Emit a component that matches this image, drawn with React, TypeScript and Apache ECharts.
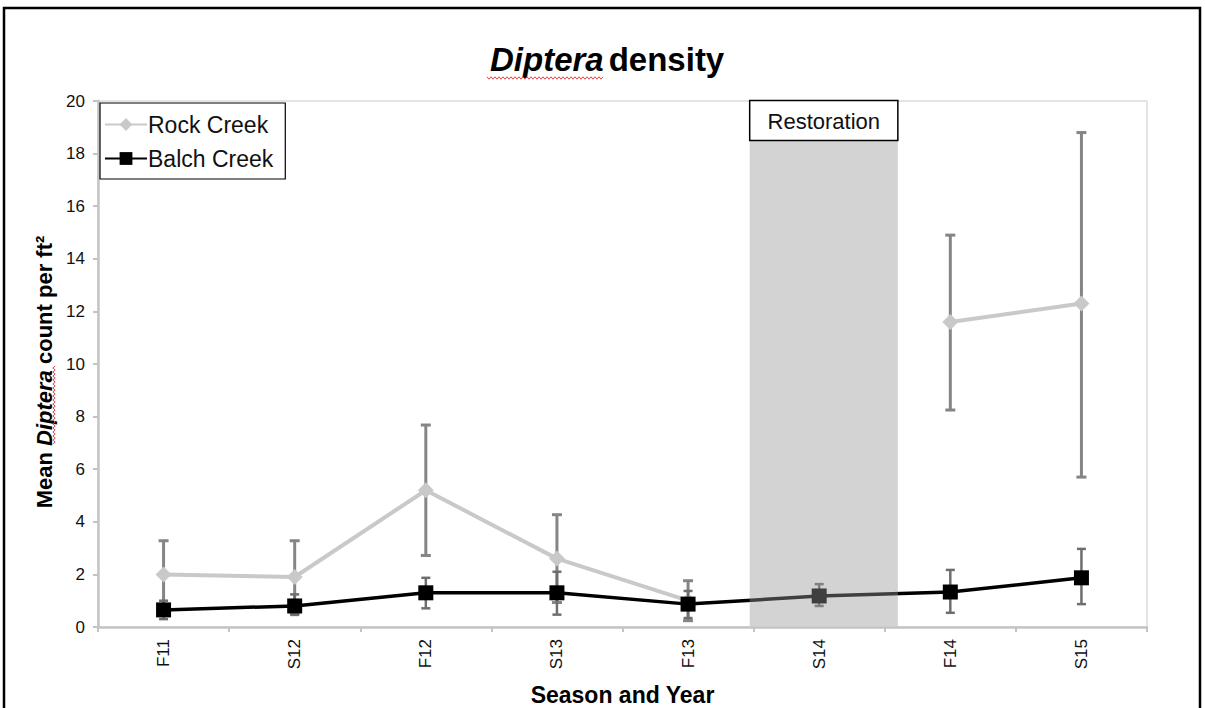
import React, { useEffect, useRef } from "react";
import * as echarts from "echarts";

const categories = ["F11", "S12", "F12", "S13", "F13", "S14", "F14", "S15"];
const rockMean = [2.0, 1.9, 5.2, 2.6, 1.0, null, 11.6, 12.3];
const rockHigh = [3.28, 3.28, 7.68, 4.27, 1.76, null, 14.9, 18.8];
const rockLow = [0.72, 0.52, 2.72, 0.93, 0.24, null, 8.25, 5.7];
const balchMean = [0.65, 0.8, 1.3, 1.3, 0.87, 1.18, 1.33, 1.87];
const balchHigh = [1.0, 1.24, 1.87, 2.1, 1.37, 1.63, 2.17, 2.97];
const balchLow = [0.3, 0.46, 0.71, 0.47, 0.34, 0.8, 0.54, 0.87];
const yMin = 0;
const yMax = 20;
const yStep = 2;
const restorationSpan = [4.47, 5.6];
const restorationLabel = "Restoration";

const FONT = '"Liberation Sans", Arial, Helvetica, sans-serif';

function errData(low: (number | null)[], high: (number | null)[]) {
  const out: number[][] = [];
  categories.forEach((_, i) => {
    if (low[i] != null && high[i] != null) out.push([i, low[i] as number, high[i] as number]);
  });
  return out;
}

function errRender(color: string, width: number, cap: number) {
  return (params: any, api: any) => {
    const x = api.value(0);
    const hi = api.coord([x, api.value(2)]);
    const lo = api.coord([x, api.value(1)]);
    const style = { stroke: color, lineWidth: width };
    return {
      type: "group",
      children: [
        { type: "line", shape: { x1: hi[0], y1: hi[1], x2: lo[0], y2: lo[1] }, style },
        { type: "line", shape: { x1: hi[0] - cap, y1: hi[1], x2: hi[0] + cap, y2: hi[1] }, style },
        { type: "line", shape: { x1: lo[0] - cap, y1: lo[1], x2: lo[0] + cap, y2: lo[1] }, style },
      ],
    };
  };
}

function wavy(x0: number, y0: number, len: number, vertical: boolean) {
  const pts: number[][] = [];
  const step = 2;
  for (let d = 0, k = 0; d <= len; d += step, k++) {
    const off = k % 2 === 0 ? -1.2 : 1.2;
    pts.push(vertical ? [x0 + off, y0 - d] : [x0 + d, y0 + off]);
  }
  return pts;
}

export default function App() {
  const ref = useRef<HTMLDivElement>(null);
  useEffect(() => {
    if (!ref.current) return;
    const chart = echarts.init(ref.current, null, { renderer: "svg" });
    const option: any = {
      animation: false,
      backgroundColor: "#fff",
      textStyle: { fontFamily: FONT },
      title: {
        text: "{i|Diptera} {b|density}",
        left: 485,
        top: 38,
        textStyle: {
          rich: {
            i: { fontFamily: FONT, fontSize: 33, fontWeight: "bold", fontStyle: "italic", color: "#000" },
            b: { fontFamily: FONT, fontSize: 33, fontWeight: "bold", color: "#000" },
          },
        },
      },
      legend: {
        data: ["Rock Creek", "Balch Creek"],
        orient: "vertical",
        left: 100,
        top: 103,
        itemWidth: 42,
        itemHeight: 16,
        itemGap: 11,
        padding: [10, 12, 9, 4],
        borderColor: "#000",
        borderWidth: 1.2,
        backgroundColor: "#fff",
        textStyle: { fontFamily: FONT, fontSize: 23, color: "#111", padding: [0, 0, 0, -4] },
        z: 10,
      },
      grid: {
        left: 98,
        width: 1049,
        top: 101,
        height: 526,
        outerBoundsMode: "none",
        containLabel: false,
        show: true,
        borderColor: "#dcdcdc",
        borderWidth: 1.5,
        backgroundColor: "transparent",
      },
      xAxis: [
        {
          type: "category",
          data: categories,
          boundaryGap: true,
          name: "Season and Year",
          nameLocation: "middle",
          nameGap: 56,
          nameTextStyle: { fontFamily: FONT, fontSize: 23, fontWeight: "bold", color: "#000" },
          axisLine: { lineStyle: { color: "#c4c4c4", width: 2.5 } },
          axisTick: { show: true, length: 5, interval: 0, lineStyle: { color: "#c4c4c4", width: 2 } },
          axisLabel: { rotate: 90, fontSize: 17, color: "#111", margin: 12, interval: 0, fontFamily: FONT },
          splitLine: { show: false },
        },
        {
          type: "value",
          min: -0.5,
          max: 7.5,
          show: false,
        },
      ],
      yAxis: {
        type: "value",
        min: yMin,
        max: yMax,
        interval: yStep,
        name: "{b|Mean }{i|Diptera}{b| count per ft²}",
        nameLocation: "middle",
        nameGap: 43,
        nameRotate: 90,
        nameTextStyle: {
          padding: [0, 16, 0, 0],
          rich: {
            b: { fontFamily: FONT, fontSize: 22, fontWeight: "bold", color: "#000" },
            i: { fontFamily: FONT, fontSize: 22, fontWeight: "bold", fontStyle: "italic", color: "#000" },
          },
        },
        axisLine: { show: true, onZero: false, lineStyle: { color: "#c4c4c4", width: 2.5 } },
        axisTick: { show: true, length: 5, lineStyle: { color: "#c4c4c4", width: 2 } },
        axisLabel: { fontSize: 17, color: "#111", margin: 13, fontFamily: FONT },
        splitLine: { show: false },
      },
      series: [
        {
          name: "rockErr",
          type: "custom",
          xAxisIndex: 0,
          renderItem: errRender("#858585", 3, 5),
          data: errData(rockLow, rockHigh),
          encode: { x: 0, y: [1, 2] },
          z: 1,
          silent: true,
        },
        {
          name: "Rock Creek",
          type: "line",
          data: rockMean,
          connectNulls: false,
          symbol: "diamond",
          symbolSize: 16,
          itemStyle: { color: "#c9c9c9" },
          lineStyle: { color: "#c9c9c9", width: 4 },
          z: 2,
        },
        {
          name: "balchErr",
          type: "custom",
          xAxisIndex: 0,
          renderItem: errRender("#6e6e6e", 2.5, 4.5),
          data: errData(balchLow, balchHigh),
          encode: { x: 0, y: [1, 2] },
          z: 3,
          silent: true,
        },
        {
          name: "Balch Creek",
          type: "line",
          data: balchMean,
          symbol: "rect",
          symbolSize: 15,
          itemStyle: { color: "#000" },
          lineStyle: { color: "#000", width: 3.5 },
          z: 4,
        },
        {
          name: "restoration",
          type: "custom",
          xAxisIndex: 1,
          yAxisIndex: 0,
          data: [[restorationSpan[0], restorationSpan[1]]],
          z: 6,
          silent: true,
          renderItem: (params: any, api: any) => {
            const topL = api.coord([api.value(0), yMax]);
            const botR = api.coord([api.value(1), yMin]);
            const x0 = topL[0];
            const x1 = botR[0];
            const boxH = 40;
            return {
              type: "group",
              children: [
                {
                  type: "rect",
                  shape: { x: x0, y: topL[1] + boxH, width: x1 - x0, height: botR[1] - topL[1] - boxH - 1 },
                  style: { fill: "rgba(150,150,150,0.42)" },
                },
                {
                  type: "rect",
                  shape: { x: x0, y: topL[1] - 0.5, width: x1 - x0, height: boxH },
                  style: { fill: "#fff", stroke: "#000", lineWidth: 1.5 },
                },
                {
                  type: "text",
                  style: {
                    text: restorationLabel,
                    x: (x0 + x1) / 2,
                    y: topL[1] + boxH / 2,
                    align: "center",
                    verticalAlign: "middle",
                    fontSize: 22,
                    fontFamily: FONT,
                    fill: "#111",
                  },
                },
              ],
            };
          },
        },
      ],
      graphic: [
        {
          type: "rect",
          shape: { x: 4, y: 8, width: 1196, height: 720 },
          style: { fill: "none", stroke: "#000", lineWidth: 2.5 },
          z: 20,
          silent: true,
        },
        {
          type: "polyline",
          shape: { points: wavy(487, 78, 117, false) },
          style: { stroke: "#e04848", lineWidth: 1, fill: "none" },
          z: 20,
          silent: true,
        },
        {
          type: "polyline",
          shape: { points: wavy(54, 444, 78, true) },
          style: { stroke: "#e04848", lineWidth: 1, fill: "none" },
          z: 20,
          silent: true,
        },
      ],
    };
    chart.setOption(option);
    return () => chart.dispose();
  }, []);
  return (
    <div
      ref={ref}
      style={{ position: "fixed", left: 0, top: 0, width: 1205, height: 708, background: "#fff" }}
    />
  );
}
